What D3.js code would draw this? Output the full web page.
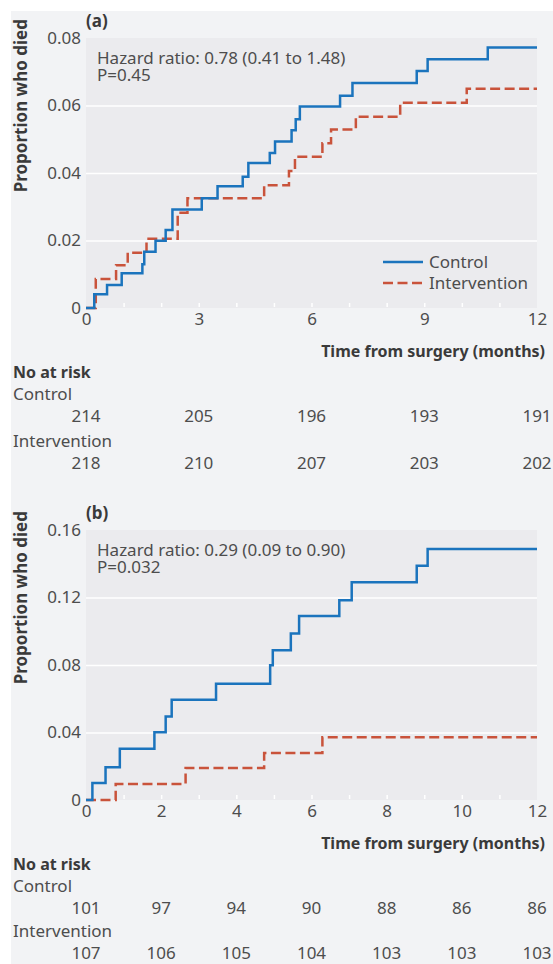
<!DOCTYPE html>
<html>
<head>
<meta charset="utf-8">
<script src="https://cdn.jsdelivr.net/npm/d3@7"></script>
<style>
  body { margin: 0; background: #fff; }
  svg { display: block; font-family: "Noto Sans", sans-serif; }
</style>
</head>
<body>
<svg id="chart" width="553" height="964"></svg>
<script>
// panel (a)
const aControlTimes = [0, 0.22, 0.56, 0.95, 1.50, 1.55, 1.85, 2.12, 2.30, 3.08, 3.50, 4.17, 4.32, 4.89, 5.03, 5.47, 5.58, 5.69, 6.76, 7.09, 8.80, 9.09, 10.69, 12];
const aControlProp = [0, 0.0041, 0.0068, 0.0103, 0.0130, 0.0167, 0.0199, 0.0231, 0.0292, 0.0325, 0.0361, 0.0389, 0.0430, 0.0459, 0.0493, 0.0527, 0.0559, 0.0597, 0.0629, 0.0667, 0.0702, 0.0737, 0.0772, 0.0772];
const aInterTimes = [0, 0.26, 0.80, 1.11, 1.61, 2.44, 2.70, 4.74, 5.40, 5.56, 6.29, 6.52, 7.18, 8.36, 10.13, 12];
const aInterProp = [0, 0.0086, 0.0127, 0.0164, 0.0205, 0.0282, 0.0325, 0.0364, 0.0406, 0.0448, 0.0488, 0.0529, 0.0567, 0.0608, 0.0650, 0.0650];
const aYTicks = [0, 0.02, 0.04, 0.06, 0.08];
const aYLabels = ["0", "0.02", "0.04", "0.06", "0.08"];
const aXTicks = [0, 3, 6, 9, 12];
const aRiskTimes = [0, 3, 6, 9, 12];
const aRiskControl = [214, 205, 196, 193, 191];
const aRiskInter = [218, 210, 207, 203, 202];

// panel (b)
const bControlTimes = [0, 0.17, 0.52, 0.90, 1.82, 2.12, 2.28, 3.46, 4.90, 4.97, 5.45, 5.67, 6.74, 7.07, 8.80, 9.09, 12];
const bControlProp = [0, 0.0101, 0.0194, 0.0303, 0.0402, 0.0495, 0.0594, 0.0689, 0.0798, 0.0887, 0.0986, 0.1090, 0.1184, 0.1290, 0.1388, 0.1487, 0.1487];
const bInterTimes = [0, 0.79, 2.65, 4.74, 6.29, 12];
const bInterProp = [0, 0.0095, 0.0190, 0.0279, 0.0372, 0.0372];
const bYTicks = [0, 0.04, 0.08, 0.12, 0.16];
const bYLabels = ["0", "0.04", "0.08", "0.12", "0.16"];
const bXTicks = [0, 2, 4, 6, 8, 10, 12];
const bRiskTimes = [0, 2, 4, 6, 8, 10, 12];
const bRiskControl = [101, 97, 94, 90, 88, 86, 86];
const bRiskInter = [107, 106, 105, 104, 103, 103, 103];

const seriesNames = ["Control", "Intervention"];
const blue = "#1b74bd", red = "#c9533b";
const textCol = "#4d4d4d", titleCol = "#3a3a3a";

const svg = d3.select("#chart");
svg.append("rect")
  .attr("x", 11).attr("y", 11)
  .attr("width", 542).attr("height", 953)
  .attr("fill", "#f2f3f5");

function drawPanel(p) {
  const left = 86, right = 537;
  const top = 38 + p.offset, bottom = 308 + p.offset;
  const x = d3.scaleLinear().domain([0, 12]).range([left, right]);
  const y = d3.scaleLinear().domain([0, p.yTicks[p.yTicks.length - 1]]).range([bottom, top]);
  const g = svg.append("g");

  g.append("rect")
    .attr("x", left).attr("y", top)
    .attr("width", right - left).attr("height", bottom - top)
    .attr("fill", "#ebebee");

  // white gridlines
  g.append("g")
    .attr("transform", `translate(${left},0)`)
    .call(d3.axisLeft(y).tickValues(p.yTicks.slice(1, -1)).tickSize(-(right - left)).tickFormat(""))
    .call((s) => {
      s.select(".domain").remove();
      s.selectAll("line").attr("stroke", "#fff").attr("stroke-width", 1.6);
    });

  // small white month ticks along the bottom
  g.append("g")
    .attr("transform", `translate(0,${bottom - 1})`)
    .call(d3.axisBottom(x).tickValues(d3.range(1, 12)).tickSize(-4).tickFormat(""))
    .call((s) => {
      s.select(".domain").remove();
      s.selectAll("line").attr("stroke", "#fff").attr("stroke-width", 1.5);
    });

  // y tick labels
  g.append("g")
    .attr("transform", `translate(${left},0)`)
    .call(d3.axisLeft(y).tickValues(p.yTicks).tickSize(0).tickPadding(5).tickFormat((d, i) => p.yLabels[i]))
    .call((s) => {
      s.select(".domain").remove();
      s.selectAll("text").attr("font-size", 17).attr("fill", textCol).attr("font-family", "Noto Sans");
    });

  // x tick labels
  g.append("g")
    .attr("transform", `translate(0,${bottom})`)
    .call(d3.axisBottom(x).tickValues(p.xTicks).tickSize(0).tickPadding(5).tickFormat(d3.format("d")))
    .call((s) => {
      s.select(".domain").remove();
      s.selectAll("text").attr("font-size", 17).attr("fill", textCol).attr("font-family", "Noto Sans");
    });

  // curves
  const line = d3.line()
    .x((d) => x(d[0]))
    .y((d) => y(d[1]))
    .curve(d3.curveStepAfter);

  g.append("path")
    .datum(d3.zip(p.interTimes, p.interProp))
    .attr("d", line)
    .attr("fill", "none")
    .attr("stroke", red)
    .attr("stroke-width", 2.5)
    .attr("stroke-dasharray", "10,4.5");

  g.append("path")
    .datum(d3.zip(p.controlTimes, p.controlProp))
    .attr("d", line)
    .attr("fill", "none")
    .attr("stroke", blue)
    .attr("stroke-width", 2.5);

  // panel letter
  g.append("text")
    .attr("x", left).attr("y", 27 + p.offset)
    .attr("font-size", 17).attr("font-weight", "bold").attr("fill", titleCol)
    .text(p.letter);

  // hazard text, two lines in one block
  const hz = g.append("text")
    .attr("x", 97).attr("y", 64 + p.offset)
    .attr("font-size", 17).attr("fill", textCol);
  hz.append("tspan").attr("x", 97).text(p.hazard);
  hz.append("tspan").attr("x", 97).attr("dy", 17).text(p.pval);

  // axis titles
  g.append("text")
    .attr("transform", `translate(27,${19 + p.offset}) rotate(-90)`)
    .attr("text-anchor", "end")
    .attr("font-size", 17).attr("font-weight", "bold").attr("fill", titleCol)
    .text("Proportion who died");

  g.append("text")
    .attr("x", 545).attr("y", 357 + p.offset)
    .attr("text-anchor", "end")
    .attr("font-size", 16).attr("font-weight", "bold").attr("fill", titleCol)
    .text("Time from surgery (months)");

  // number at risk
  const r0 = 378 + p.offset;
  g.append("text")
    .attr("x", 13).attr("y", r0)
    .attr("font-size", 16).attr("font-weight", "bold").attr("fill", titleCol)
    .text("No at risk");
  const rows = [p.riskControl, p.riskInter];
  rows.forEach((vals, k) => {
    const base = r0 + 22 + k * p.rowGap;
    g.append("text")
      .attr("x", 13).attr("y", base)
      .attr("font-size", 17).attr("fill", textCol)
      .text(seriesNames[k]);
    g.selectAll(null)
      .data(vals)
      .enter()
      .append("text")
      .attr("x", (d, i) => x(p.riskTimes[i]))
      .attr("y", base + 22)
      .attr("text-anchor", "middle")
      .attr("font-size", 17).attr("fill", textCol)
      .text((d) => d);
  });

  // legend
  if (p.legend) {
    const cols = [blue, red];
    seriesNames.forEach((name, k) => {
      const ly = 262 + k * 21 + p.offset;
      g.append("line")
        .attr("x1", 383).attr("x2", 423)
        .attr("y1", ly).attr("y2", ly)
        .attr("stroke", cols[k]).attr("stroke-width", 2.5)
        .attr("stroke-dasharray", k === 1 ? "10,4.5" : null);
      g.append("text")
        .attr("x", 429).attr("y", ly + 6)
        .attr("font-size", 17).attr("fill", textCol)
        .text(name);
    });
  }
}

drawPanel({
  offset: 0, letter: "(a)", legend: true, rowGap: 47,
  hazard: "Hazard ratio: 0.78 (0.41 to 1.48)", pval: "P=0.45",
  yTicks: aYTicks, yLabels: aYLabels, xTicks: aXTicks,
  controlTimes: aControlTimes, controlProp: aControlProp,
  interTimes: aInterTimes, interProp: aInterProp,
  riskTimes: aRiskTimes, riskControl: aRiskControl, riskInter: aRiskInter,
});

drawPanel({
  offset: 492, letter: "(b)", legend: false, rowGap: 45,
  hazard: "Hazard ratio: 0.29 (0.09 to 0.90)", pval: "P=0.032",
  yTicks: bYTicks, yLabels: bYLabels, xTicks: bXTicks,
  controlTimes: bControlTimes, controlProp: bControlProp,
  interTimes: bInterTimes, interProp: bInterProp,
  riskTimes: bRiskTimes, riskControl: bRiskControl, riskInter: bRiskInter,
});
</script>
</body>
</html>
